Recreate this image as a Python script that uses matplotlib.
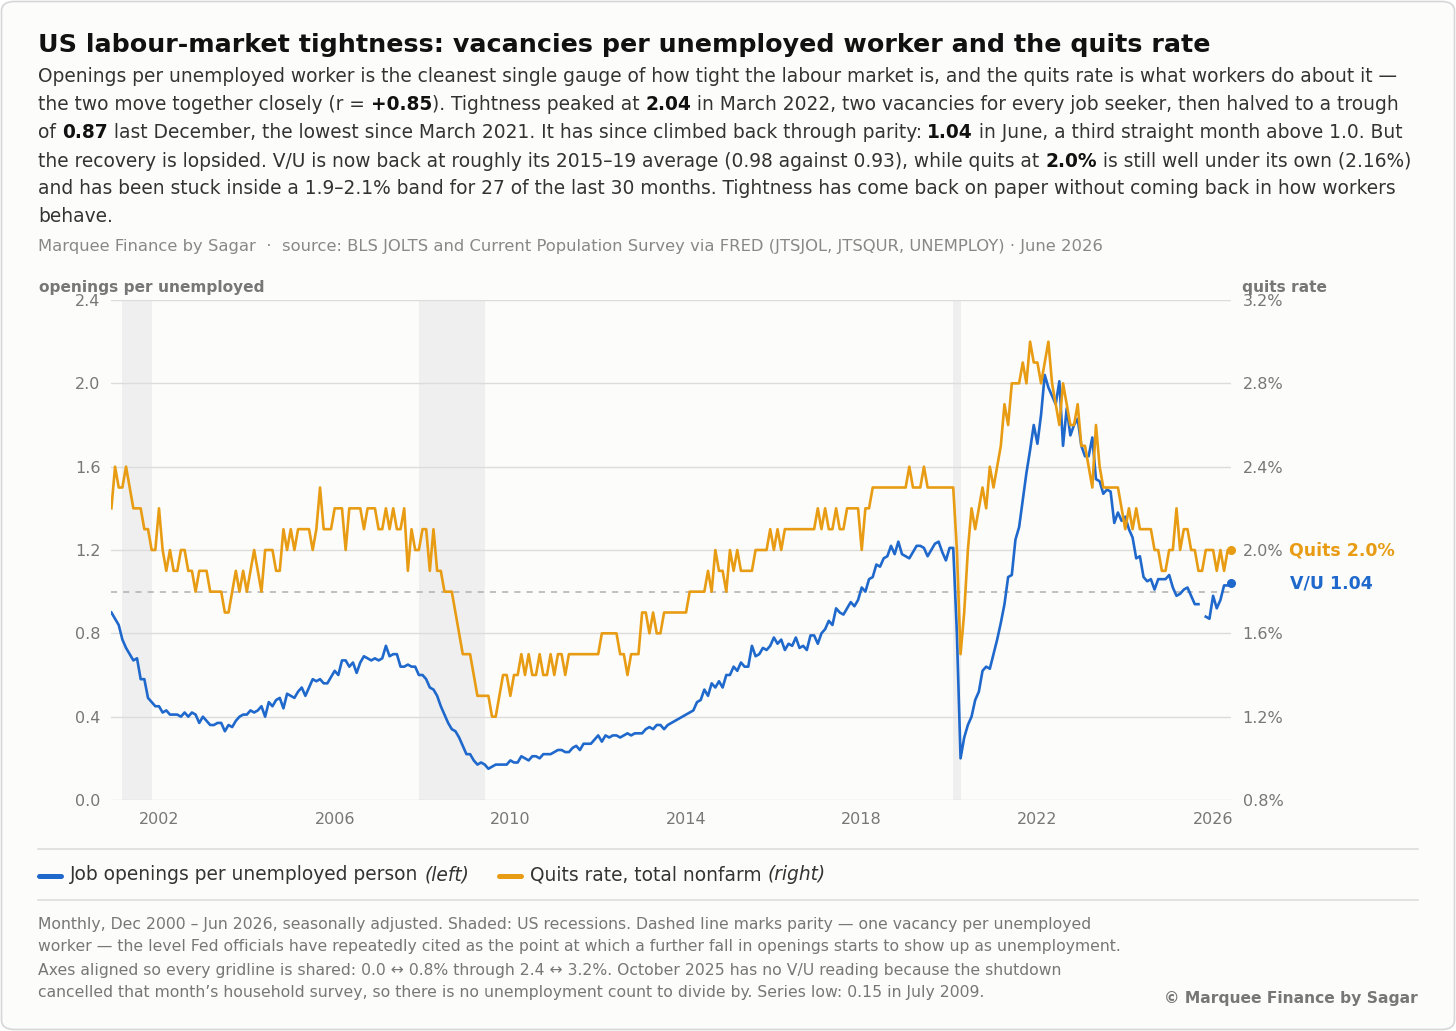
import matplotlib
matplotlib.use("Agg")
import matplotlib.pyplot as plt
import numpy as np
from matplotlib.patches import FancyBboxPatch
from matplotlib.lines import Line2D

# ---------------- data ----------------
start_year, start_month = 2000, 12          # first observation: Dec 2000
year_ticks = [2002, 2006, 2010, 2014, 2018, 2022, 2026]
left_ticks = [0.0, 0.4, 0.8, 1.2, 1.6, 2.0, 2.4]
right_ticks = ["0.8%", "1.2%", "1.6%", "2.0%", "2.4%", "2.8%", "3.2%"]

# openings per unemployed person (V/U), monthly
vu_2000 = [0.90]
vu_2001 = [0.87, 0.84, 0.77, 0.73, 0.70, 0.67, 0.68, 0.58, 0.58, 0.49, 0.47, 0.45]
vu_2002 = [0.45, 0.42, 0.43, 0.41, 0.41, 0.41, 0.40, 0.42, 0.40, 0.42, 0.41, 0.37]
vu_2003 = [0.40, 0.38, 0.36, 0.36, 0.37, 0.37, 0.33, 0.36, 0.35, 0.38, 0.40, 0.41]
vu_2004 = [0.41, 0.43, 0.42, 0.43, 0.45, 0.40, 0.47, 0.45, 0.48, 0.49, 0.44, 0.51]
vu_2005 = [0.50, 0.49, 0.52, 0.54, 0.50, 0.54, 0.58, 0.57, 0.58, 0.56, 0.56, 0.59]
vu_2006 = [0.62, 0.60, 0.67, 0.67, 0.64, 0.66, 0.61, 0.66, 0.69, 0.68, 0.67, 0.68]
vu_2007 = [0.67, 0.68, 0.74, 0.69, 0.70, 0.70, 0.64, 0.64, 0.65, 0.64, 0.64, 0.60]
vu_2008 = [0.60, 0.58, 0.54, 0.53, 0.50, 0.45, 0.41, 0.37, 0.34, 0.33, 0.30, 0.26]
vu_2009 = [0.22, 0.22, 0.19, 0.17, 0.18, 0.17, 0.15, 0.16, 0.17, 0.17, 0.17, 0.17]
vu_2010 = [0.19, 0.18, 0.18, 0.21, 0.20, 0.19, 0.21, 0.21, 0.20, 0.22, 0.22, 0.22]
vu_2011 = [0.23, 0.24, 0.24, 0.23, 0.23, 0.25, 0.26, 0.24, 0.27, 0.27, 0.27, 0.29]
vu_2012 = [0.31, 0.28, 0.31, 0.30, 0.31, 0.31, 0.30, 0.31, 0.32, 0.31, 0.32, 0.32]
vu_2013 = [0.32, 0.34, 0.35, 0.34, 0.36, 0.36, 0.34, 0.36, 0.37, 0.38, 0.39, 0.40]
vu_2014 = [0.41, 0.42, 0.43, 0.47, 0.48, 0.53, 0.50, 0.56, 0.54, 0.57, 0.54, 0.60]
vu_2015 = [0.60, 0.64, 0.62, 0.66, 0.64, 0.64, 0.74, 0.69, 0.70, 0.73, 0.72, 0.74]
vu_2016 = [0.78, 0.75, 0.77, 0.72, 0.75, 0.74, 0.78, 0.73, 0.74, 0.72, 0.79, 0.79]
vu_2017 = [0.75, 0.80, 0.82, 0.86, 0.84, 0.92, 0.90, 0.89, 0.92, 0.95, 0.93, 0.96]
vu_2018 = [1.02, 1.00, 1.06, 1.07, 1.13, 1.12, 1.16, 1.17, 1.22, 1.18, 1.24, 1.18]
vu_2019 = [1.17, 1.16, 1.19, 1.22, 1.22, 1.21, 1.17, 1.20, 1.23, 1.24, 1.19, 1.15]
vu_2020 = [1.21, 1.21, 0.80, 0.20, 0.30, 0.36, 0.40, 0.48, 0.52, 0.62, 0.64, 0.63]
vu_2021 = [0.70, 0.77, 0.85, 0.94, 1.07, 1.08, 1.25, 1.31, 1.44, 1.57, 1.68, 1.80]
vu_2022 = [1.71, 1.85, 2.04, 1.98, 1.94, 1.90, 2.01, 1.70, 1.88, 1.75, 1.80, 1.83]
vu_2023 = [1.70, 1.65, 1.65, 1.74, 1.54, 1.53, 1.47, 1.49, 1.48, 1.33, 1.38, 1.34]
vu_2024 = [1.36, 1.30, 1.26, 1.16, 1.17, 1.07, 1.05, 1.06, 1.01, 1.06, 1.06, 1.06]
vu_2025 = [1.08, 1.02, 0.98, 0.99, 1.01, 1.02, 0.98, 0.94, 0.94, np.nan, 0.88, 0.87]
vu_2026 = [0.98, 0.92, 0.96, 1.03, 1.03, 1.04]

# quits rate, total nonfarm (%), monthly
q_2000 = [2.2]
q_2001 = [2.4, 2.3, 2.3, 2.4, 2.3, 2.2, 2.2, 2.2, 2.1, 2.1, 2.0, 2.0]
q_2002 = [2.2, 2.0, 1.9, 2.0, 1.9, 1.9, 2.0, 2.0, 1.9, 1.9, 1.8, 1.9]
q_2003 = [1.9, 1.9, 1.8, 1.8, 1.8, 1.8, 1.7, 1.7, 1.8, 1.9, 1.8, 1.9]
q_2004 = [1.8, 1.9, 2.0, 1.9, 1.8, 2.0, 2.0, 2.0, 1.9, 1.9, 2.1, 2.0]
q_2005 = [2.1, 2.0, 2.1, 2.1, 2.1, 2.1, 2.0, 2.1, 2.3, 2.1, 2.1, 2.1]
q_2006 = [2.2, 2.2, 2.2, 2.0, 2.2, 2.2, 2.2, 2.2, 2.1, 2.2, 2.2, 2.2]
q_2007 = [2.1, 2.1, 2.2, 2.1, 2.2, 2.1, 2.1, 2.2, 1.9, 2.1, 2.0, 2.0]
q_2008 = [2.1, 2.1, 1.9, 2.1, 1.9, 1.9, 1.8, 1.8, 1.8, 1.7, 1.6, 1.5]
q_2009 = [1.5, 1.5, 1.4, 1.3, 1.3, 1.3, 1.3, 1.2, 1.2, 1.3, 1.4, 1.4]
q_2010 = [1.3, 1.4, 1.4, 1.5, 1.4, 1.5, 1.4, 1.4, 1.5, 1.4, 1.4, 1.5]
q_2011 = [1.4, 1.5, 1.5, 1.4, 1.5, 1.5, 1.5, 1.5, 1.5, 1.5, 1.5, 1.5]
q_2012 = [1.5, 1.6, 1.6, 1.6, 1.6, 1.6, 1.5, 1.5, 1.4, 1.5, 1.5, 1.5]
q_2013 = [1.7, 1.7, 1.6, 1.7, 1.6, 1.6, 1.7, 1.7, 1.7, 1.7, 1.7, 1.7]
q_2014 = [1.7, 1.8, 1.8, 1.8, 1.8, 1.8, 1.9, 1.8, 2.0, 1.9, 1.9, 1.8]
q_2015 = [2.0, 1.9, 2.0, 1.9, 1.9, 1.9, 1.9, 2.0, 2.0, 2.0, 2.0, 2.1]
q_2016 = [2.0, 2.1, 2.0, 2.1, 2.1, 2.1, 2.1, 2.1, 2.1, 2.1, 2.1, 2.1]
q_2017 = [2.2, 2.1, 2.2, 2.1, 2.1, 2.2, 2.1, 2.1, 2.2, 2.2, 2.2, 2.2]
q_2018 = [2.0, 2.2, 2.2, 2.3, 2.3, 2.3, 2.3, 2.3, 2.3, 2.3, 2.3, 2.3]
q_2019 = [2.3, 2.4, 2.3, 2.3, 2.3, 2.4, 2.3, 2.3, 2.3, 2.3, 2.3, 2.3]
q_2020 = [2.3, 2.3, 2.0, 1.5, 1.7, 2.0, 2.2, 2.1, 2.2, 2.3, 2.2, 2.4]
q_2021 = [2.3, 2.4, 2.5, 2.7, 2.6, 2.8, 2.8, 2.8, 2.9, 2.8, 3.0, 2.9]
q_2022 = [2.9, 2.8, 2.9, 3.0, 2.8, 2.7, 2.6, 2.8, 2.7, 2.6, 2.6, 2.7]
q_2023 = [2.5, 2.5, 2.4, 2.3, 2.6, 2.4, 2.3, 2.3, 2.3, 2.3, 2.3, 2.2]
q_2024 = [2.1, 2.2, 2.1, 2.2, 2.1, 2.1, 2.1, 2.1, 2.0, 2.0, 1.9, 1.9]
q_2025 = [2.0, 2.0, 2.2, 2.0, 2.1, 2.1, 2.0, 2.0, 1.9, 1.9, 2.0, 2.0]
q_2026 = [2.0, 1.9, 2.0, 1.9, 2.0, 2.0]

# recessions (start, end) as (year, month)
recessions = [((2001, 3), (2001, 11)), ((2007, 12), (2009, 6)), ((2020, 2), (2020, 4))]

vu = np.array(vu_2000 + vu_2001 + vu_2002 + vu_2003 + vu_2004 + vu_2005 + vu_2006 +
              vu_2007 + vu_2008 + vu_2009 + vu_2010 + vu_2011 + vu_2012 + vu_2013 +
              vu_2014 + vu_2015 + vu_2016 + vu_2017 + vu_2018 + vu_2019 + vu_2020 +
              vu_2021 + vu_2022 + vu_2023 + vu_2024 + vu_2025 + vu_2026, dtype=float)
quits = np.array(q_2000 + q_2001 + q_2002 + q_2003 + q_2004 + q_2005 + q_2006 +
                 q_2007 + q_2008 + q_2009 + q_2010 + q_2011 + q_2012 + q_2013 +
                 q_2014 + q_2015 + q_2016 + q_2017 + q_2018 + q_2019 + q_2020 +
                 q_2021 + q_2022 + q_2023 + q_2024 + q_2025 + q_2026, dtype=float)


def ym(y, m):
    return y + (m - 1) / 12.0


x = ym(start_year, start_month) + np.arange(len(vu)) / 12.0

# ---------------- style ----------------
BLUE = "#1f68cc"
ORANGE = "#e89c13"
GRID = "#dcdcdc"
TICK = "#777777"
W, H = 1456, 1031

fig = plt.figure(figsize=(W / 100, H / 100), dpi=100)
fig.patch.set_facecolor("white")
card = FancyBboxPatch((1.5 / W, 1.5 / H), 1 - 3 / W, 1 - 3 / H,
                      boxstyle="round,pad=0,rounding_size=0.009",
                      transform=fig.transFigure, facecolor="#fcfcfa",
                      edgecolor="#d6d6d6", lw=1.2, zorder=-10)
fig.patches.append(card)


def fx(px):
    return px / W


def fy(py):
    return 1 - py / H


ax = fig.add_axes([fx(111.4), fy(800), (1231.4 - 111.4) / W, 500 / H])
ax.set_facecolor("none")
ax2 = ax.twinx()

for (s, e) in recessions:
    ax.axvspan(ym(*s), ym(*e), color="#efefef", lw=0, zorder=0)

ax.set_ylim(0, 2.4)
ax2.set_ylim(0.8, 3.2)
ax.set_xlim(x[0], x[-1])
ax.set_yticks(left_ticks)
ax.set_yticklabels([f"{v:.1f}" for v in left_ticks])
ax2.set_yticks([float(t.rstrip('%')) for t in right_ticks])
ax2.set_yticklabels(right_ticks)
ax.set_xticks(year_ticks)
ax.set_xticklabels([str(y) for y in year_ticks])
ax.grid(axis="y", color=GRID, lw=1.0, zorder=1)
ax.grid(axis="x", visible=False)
ax.axhline(1.0, color="#b0b0b0", lw=1.1, ls=(0, (4, 4)), zorder=1)

for a in (ax, ax2):
    for sp in a.spines.values():
        sp.set_visible(False)
ax.tick_params(axis="y", length=0, pad=8, labelsize=11.5, labelcolor=TICK)
ax.tick_params(axis="x", length=0, pad=9, labelsize=11.5, labelcolor=TICK)
ax2.tick_params(axis="y", length=0, pad=8, labelsize=11.5, labelcolor=TICK)

ax.plot(x, vu, color=BLUE, lw=1.9, solid_joinstyle="round", zorder=3)
ax2.plot(x, quits, color=ORANGE, lw=1.9, solid_joinstyle="round", zorder=3)
ax.plot([x[-1]], [vu[-1]], "o", ms=5.5, color=BLUE, clip_on=False, zorder=4)
ax2.plot([x[-1]], [quits[-1]], "o", ms=5.5, color=ORANGE, clip_on=False, zorder=4)

ax2.annotate(f"Quits {quits[-1]:.1f}%", xy=(x[-1], quits[-1]), xytext=(58, 0),
             textcoords="offset pixels", color=ORANGE, fontsize=12.5,
             fontweight="bold", va="center", ha="left", annotation_clip=False)
ax.annotate(f"V/U {vu[-1]:.2f}", xy=(x[-1], vu[-1]), xytext=(59, 0),
            textcoords="offset pixels", color=BLUE, fontsize=12.5,
            fontweight="bold", va="center", ha="left", annotation_clip=False)

fig.text(fx(39), fy(287), "openings per unemployed", fontsize=11.1,
         fontweight="bold", color="#777777", va="center", ha="left")
fig.text(fx(1242), fy(287), "quits rate", fontsize=11.1,
         fontweight="bold", color="#777777", va="center", ha="left")

# ---------------- text blocks ----------------
renderer = fig.canvas.get_renderer()


def rich(x_px, y_px, segs, size, color, bold_color=None):
    xp = x_px
    for txt, kind in segs:
        kw = dict(fontsize=size, va="center", ha="left", color=color)
        if kind == "b":
            kw["fontweight"] = "bold"
            kw["color"] = bold_color or color
        elif kind == "i":
            kw["style"] = "italic"
        t = fig.text(fx(xp), fy(y_px), txt, **kw)
        bb = t.get_window_extent(renderer)
        xp = bb.x1


fig.text(fx(38), fy(45),
         "US labour-market tightness: vacancies per unemployed worker and the quits rate",
         fontsize=18.25, fontweight="bold", color="#111111", va="center", ha="left")

SUB = 13.42
sub_lines = [
    [("Openings per unemployed worker is the cleanest single gauge of how tight the labour market is, and the quits rate is what workers do about it \u2014", "n")],
    [("the two move together closely (r = ", "n"), ("+0.85", "b"),
     ("). Tightness peaked at ", "n"), ("2.04", "b"),
     (" in March 2022, two vacancies for every job seeker, then halved to a trough", "n")],
    [("of ", "n"), ("0.87", "b"),
     (" last December, the lowest since March 2021. It has since climbed back through parity: ", "n"),
     ("1.04", "b"), (" in June, a third straight month above 1.0. But", "n")],
    [("the recovery is lopsided. V/U is now back at roughly its 2015\u201319 average (0.98 against 0.93), while quits at ", "n"),
     ("2.0%", "b"), (" is still well under its own (2.16%)", "n")],
    [("and has been stuck inside a 1.9\u20132.1% band for 27 of the last 30 months. Tightness has come back on paper without coming back in how workers", "n")],
    [("behave.", "n")],
]
for k, segs in enumerate(sub_lines):
    rich(38, 77 + 28 * k, segs, SUB, "#333333", bold_color="#111111")

fig.text(fx(38), fy(246),
         "Marquee Finance by Sagar  \u00b7  source: BLS JOLTS and Current Population Survey via FRED (JTSJOL, JTSQUR, UNEMPLOY) \u00b7 June 2026",
         fontsize=11.8, color="#888888", va="center", ha="left")

# separators
for yy in (849, 900):
    fig.add_artist(Line2D([fx(38), fx(1418)], [fy(yy), fy(yy)], color="#dddddd", lw=1.2))

# legend
fig.add_artist(Line2D([fx(39), fx(61)], [fy(876), fy(876)], color=BLUE, lw=3.6, solid_capstyle="round"))
rich(70, 875, [("Job openings per unemployed person ", "n"), ("(left)", "i")], 13.4, "#333333")
fig.add_artist(Line2D([fx(499), fx(521)], [fy(876), fy(876)], color=ORANGE, lw=3.6, solid_capstyle="round"))
rich(530, 875, [("Quits rate, total nonfarm ", "n"), ("(right)", "i")], 13.4, "#333333")

foot = [
    "Monthly, Dec 2000 \u2013 Jun 2026, seasonally adjusted. Shaded: US recessions. Dashed line marks parity \u2014 one vacancy per unemployed",
    "worker \u2014 the level Fed officials have repeatedly cited as the point at which a further fall in openings starts to show up as unemployment.",
    "Axes aligned so every gridline is shared: 0.0 \u2194 0.8% through 2.4 \u2194 3.2%. October 2025 has no V/U reading because the shutdown",
    "cancelled that month\u2019s household survey, so there is no unemployment count to divide by. Series low: 0.15 in July 2009.",
]
for k, line in enumerate(foot):
    fig.text(fx(38), fy(924 + 23 * k), line, fontsize=11.23, color="#777777", va="center", ha="left")

fig.text(fx(1418), fy(998), "\u00a9 Marquee Finance by Sagar", fontsize=11.2,
         fontweight="bold", color="#777777", va="center", ha="right")

fig.savefig("out.png", dpi=100, facecolor="white")
